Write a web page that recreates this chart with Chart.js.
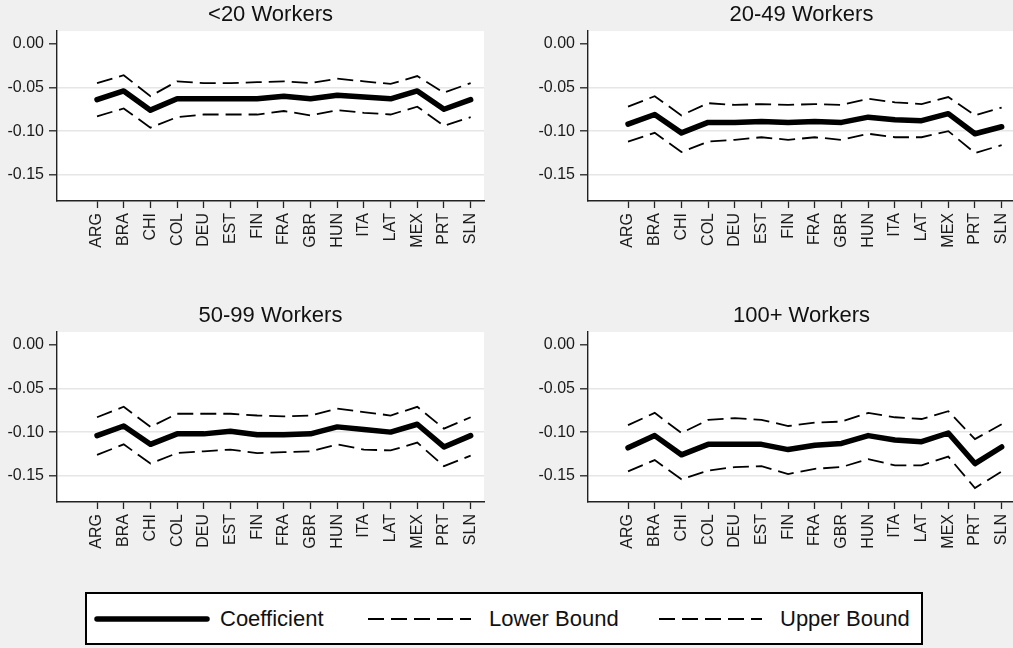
<!DOCTYPE html>
<html>
<head>
<meta charset="utf-8">
<script src="https://cdn.jsdelivr.net/npm/chart.js@4/dist/chart.umd.min.js"></script>
<style>
  html, body { margin: 0; padding: 0; background: #f0f0f0; overflow: hidden; }
  #page { position: relative; width: 1013px; height: 648px; overflow: hidden; background: #f0f0f0;
          font-family: "Liberation Sans", Arial, Helvetica, sans-serif; }
  .panel { position: absolute; width: 500px; height: 300px; }
  #legend { position: absolute; left: 85px; top: 592px; width: 834px; height: 49px;
            border: 2px solid #000; background: #fff; }
  #legend svg { position: absolute; left: 0; top: 0; }
  .lg-text { position: absolute; top: 0; height: 49px; line-height: 49px; font-size: 22px; color: #111; white-space: nowrap; }
</style>
</head>
<body>
<div id="page">
  <div class="panel" style="left:0px;top:0px"><canvas id="p1" width="500" height="300"></canvas></div>
  <div class="panel" style="left:531px;top:0px"><canvas id="p2" width="500" height="300"></canvas></div>
  <div class="panel" style="left:0px;top:301px"><canvas id="p3" width="500" height="300"></canvas></div>
  <div class="panel" style="left:531px;top:301px"><canvas id="p4" width="500" height="300"></canvas></div>
  <div id="legend">
    <svg width="834" height="49">
      <line x1="10" y1="25" x2="120" y2="25" stroke="#000" stroke-width="5.5" stroke-linecap="round"/>
      <line x1="281" y1="25" x2="384" y2="25" stroke="#000" stroke-width="1.8" stroke-dasharray="16 7"/>
      <line x1="572" y1="25" x2="675" y2="25" stroke="#000" stroke-width="1.8" stroke-dasharray="16 7"/>
    </svg>
    <span class="lg-text" style="left:133px">Coefficient</span>
    <span class="lg-text" style="left:402px">Lower Bound</span>
    <span class="lg-text" style="left:693px">Upper Bound</span>
  </div>
</div>
<script>
// Countries on the horizontal axis
const categories = ['ARG','BRA','CHI','COL','DEU','EST','FIN','FRA','GBR','HUN','ITA','LAT','MEX','PRT','SLN'];

// Vertical axis tick values
const yTickValues = [0, -0.05, -0.10, -0.15];

// <20 Workers
const coefLt20  = [-0.064,-0.054,-0.076,-0.063,-0.063,-0.063,-0.063,-0.060,-0.063,-0.059,-0.061,-0.063,-0.054,-0.075,-0.064];
const upperLt20 = [-0.045,-0.036,-0.060,-0.043,-0.045,-0.045,-0.044,-0.043,-0.045,-0.040,-0.043,-0.046,-0.037,-0.056,-0.045];
const lowerLt20 = [-0.083,-0.074,-0.096,-0.084,-0.081,-0.081,-0.081,-0.077,-0.082,-0.076,-0.079,-0.081,-0.072,-0.094,-0.084];

// 20-49 Workers
const coef20to49  = [-0.092,-0.081,-0.102,-0.090,-0.090,-0.089,-0.090,-0.089,-0.090,-0.084,-0.087,-0.088,-0.080,-0.103,-0.095];
const upper20to49 = [-0.072,-0.060,-0.082,-0.068,-0.070,-0.069,-0.070,-0.069,-0.070,-0.063,-0.067,-0.069,-0.061,-0.082,-0.073];
const lower20to49 = [-0.112,-0.102,-0.124,-0.112,-0.110,-0.107,-0.110,-0.107,-0.110,-0.103,-0.107,-0.107,-0.100,-0.125,-0.116];

// 50-99 Workers
const coef50to99  = [-0.104,-0.093,-0.114,-0.102,-0.102,-0.099,-0.103,-0.103,-0.102,-0.094,-0.097,-0.100,-0.091,-0.117,-0.104];
const upper50to99 = [-0.083,-0.071,-0.094,-0.079,-0.079,-0.079,-0.081,-0.082,-0.081,-0.073,-0.077,-0.081,-0.071,-0.096,-0.083];
const lower50to99 = [-0.126,-0.114,-0.136,-0.124,-0.122,-0.120,-0.124,-0.123,-0.122,-0.114,-0.120,-0.121,-0.112,-0.139,-0.127];

// 100+ Workers
const coef100  = [-0.118,-0.104,-0.126,-0.114,-0.114,-0.114,-0.120,-0.115,-0.113,-0.104,-0.109,-0.111,-0.101,-0.136,-0.117];
const upper100 = [-0.092,-0.078,-0.101,-0.086,-0.084,-0.086,-0.093,-0.089,-0.088,-0.078,-0.083,-0.085,-0.076,-0.108,-0.091];
const lower100 = [-0.145,-0.132,-0.154,-0.144,-0.140,-0.139,-0.148,-0.142,-0.140,-0.131,-0.138,-0.138,-0.128,-0.164,-0.145];

const FONT = '"Liberation Sans", Arial, Helvetica, sans-serif';
const INK = '#1a1a1a';

// White plotting region behind the lines
const plotBackground = {
  id: 'plotBackground',
  beforeDraw(chart) {
    const { ctx, chartArea: a } = chart;
    ctx.save();
    ctx.fillStyle = '#ffffff';
    ctx.fillRect(a.left, a.top, a.right - a.left, a.bottom - a.top);
    ctx.restore();
  }
};

function points(values) {
  return values.map((v, i) => ({ x: i, y: v }));
}

function makePanel(id, title, coef, lower, upper) {
  const dashed = { borderColor: '#000', borderWidth: 1.8, borderDash: [16, 7], pointRadius: 0, tension: 0, fill: false };
  new Chart(document.getElementById(id), {
    type: 'line',
    data: {
      datasets: [
        Object.assign({ label: 'Lower Bound', data: points(lower) }, dashed),
        Object.assign({ label: 'Upper Bound', data: points(upper) }, dashed),
        { label: 'Coefficient', data: points(coef), borderColor: '#000', borderWidth: 5.5,
          borderCapStyle: 'round', borderJoinStyle: 'round', pointRadius: 0, tension: 0, fill: false }
      ]
    },
    options: {
      responsive: false,
      animation: false,
      devicePixelRatio: 1,
      layout: { padding: { left: 0, right: 16, top: 0, bottom: 0 } },
      plugins: {
        legend: { display: false },
        tooltip: { enabled: false },
        title: {
          display: true, text: title, fullSize: false, color: '#111',
          font: { family: FONT, size: 22, weight: 'normal', lineHeight: 1.2 },
          padding: { top: 2, bottom: 2.7 }
        }
      },
      scales: {
        x: {
          type: 'linear', min: -1.5, max: 14.5,
          afterBuildTicks(scale) { scale.ticks = categories.map((_, i) => ({ value: i })); },
          afterFit(scale) { scale.height = 99; },
          ticks: {
            autoSkip: false, minRotation: 90, maxRotation: 90, padding: 5, color: INK,
            font: { family: FONT, size: 16 },
            callback: (v) => categories[v]
          },
          grid: { drawOnChartArea: false, drawTicks: true, tickLength: 7, tickColor: '#222', tickWidth: 1.3 },
          border: { display: true, color: '#222', width: 1.4 }
        },
        y: {
          min: -0.18, max: 0.0145,
          afterBuildTicks(scale) { scale.ticks = yTickValues.map(v => ({ value: v })); },
          afterFit(scale) { scale.width = 57; },
          ticks: {
            padding: 5, color: INK, font: { family: FONT, size: 16 },
            callback: (v) => Number(v).toFixed(2)
          },
          grid: {
            drawTicks: true, tickLength: 8, tickColor: '#222', tickWidth: 1.3, lineWidth: 1.6,
            color: (c) => (c.tick && c.tick.value === 0) ? 'rgba(0,0,0,0)' : '#e6e6e6'
          },
          border: { display: true, color: '#222', width: 1.4 }
        }
      }
    },
    plugins: [plotBackground]
  });
}

makePanel('p1', '<20 Workers', coefLt20, lowerLt20, upperLt20);
makePanel('p2', '20-49 Workers', coef20to49, lower20to49, upper20to49);
makePanel('p3', '50-99 Workers', coef50to99, lower50to99, upper50to99);
makePanel('p4', '100+ Workers', coef100, lower100, upper100);
</script>
</body>
</html>
